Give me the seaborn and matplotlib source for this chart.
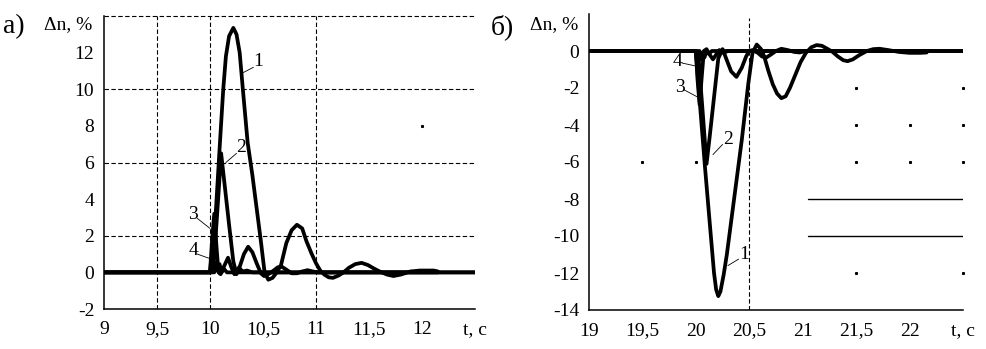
import matplotlib
matplotlib.use("Agg")
import matplotlib.pyplot as plt
import seaborn as sns

# ---------------- data ----------------
# Panel а): positive speed deviation, curves 1..4
a_c1_t = [9.0, 10.0, 10.02, 10.06, 10.094, 10.125, 10.15, 10.18, 10.22, 10.25, 10.28, 10.31,
          10.355, 10.40, 10.44, 10.48, 10.515, 10.55, 10.59, 10.63, 10.67, 10.72, 10.77, 10.82,
          10.87, 10.91, 10.96, 11.0, 11.04, 11.08, 11.12, 11.16, 11.21, 11.26, 11.31, 11.37,
          11.43, 11.49, 11.55, 11.6, 11.67, 11.73, 11.8, 11.89, 11.98, 12.05, 12.11, 12.15]
a_c1_v = [0, 0, 0.2, 3.8, 7.1, 10.0, 11.8, 12.9, 13.35, 13.0, 12.0, 10.0,
          7.1, 5.3, 3.5, 1.7, 0.0, -0.4, -0.3, 0.0, 0.4, 1.6, 2.3, 2.6,
          2.4, 1.7, 1.0, 0.5, 0.1, -0.13, -0.27, -0.3, -0.18, 0.0, 0.25, 0.45,
          0.52, 0.4, 0.2, 0.05, -0.12, -0.2, -0.12, 0.05, 0.1, 0.1, 0.1, 0.05]

a_c2_t = [9.0, 10.0, 10.03, 10.07, 10.105, 10.13, 10.18, 10.22, 10.25, 10.28, 10.32, 10.36,
          10.40, 10.44, 10.48, 10.51, 10.55, 10.6, 10.64, 10.68, 10.72, 10.77, 10.82, 10.87,
          10.92, 10.97, 11.02, 12.15]
a_c2_v = [0, 0, 0.0, 3.4, 6.5, 5.2, 2.6, 0.6, -0.1, 0.3, 1.0, 1.4,
          1.1, 0.5, -0.05, -0.2, -0.1, 0.1, 0.28, 0.3, 0.15, -0.05, -0.05, 0.05,
          0.12, 0.05, 0.0, 0.0]

a_c3_t = [9.0, 10.0, 10.02, 10.04, 10.06, 10.08, 10.1, 10.13, 10.17, 10.2, 10.23, 10.27,
          10.31, 10.35, 10.4, 12.5]
a_c3_v = [0, 0, 1.8, 3.2, 1.5, 0.0, -0.1, 0.3, 0.8, 0.3, -0.1, 0.25,
          0.05, 0.1, 0.0, 0.0]

a_c4_t = [9.0, 10.0, 10.01, 10.025, 10.04, 10.055, 10.07, 10.09, 10.11, 10.13, 10.16, 12.5]
a_c4_v = [0, 0, 0.6, 1.0, 0.0, 0.5, 0.1, 0.45, 0.0, 0.2, 0.0, 0.0]

# Panel б): negative speed deviation, curves 1..4
b_c1_t = [19.0, 20.0, 20.04, 20.085, 20.13, 20.17, 20.19, 20.21, 20.23, 20.26, 20.29, 20.36,
          20.43, 20.49, 20.53, 20.57, 20.61, 20.64, 20.68, 20.72, 20.76, 20.80, 20.84, 20.88,
          20.93, 20.98, 21.03, 21.08, 21.13, 21.18, 21.23, 21.28, 21.33, 21.38, 21.42, 21.47,
          21.53, 21.6, 21.66, 21.72, 21.8, 21.9, 22.0, 22.1, 22.16]
b_c1_v = [0, 0, -3.0, -6.25, -9.3, -12.0, -12.9, -13.25, -13.0, -12.1, -11.0, -7.9,
          -4.8, -1.8, -0.1, 0.35, 0.1, -0.3, -1.1, -1.8, -2.3, -2.55, -2.45, -2.0,
          -1.3, -0.6, -0.1, 0.2, 0.32, 0.28, 0.12, -0.05, -0.3, -0.5, -0.55, -0.45,
          -0.22, 0.0, 0.1, 0.12, 0.05, -0.05, -0.1, -0.1, -0.08]

b_c2_t = [19.0, 20.0, 20.02, 20.06, 20.10, 20.13, 20.17, 20.21, 20.25, 20.29, 20.33, 20.38,
          20.43, 20.47, 20.5, 20.53, 20.58, 20.62, 20.66, 20.7, 20.75, 20.8, 20.86, 20.92,
          20.97, 21.03, 22.16]
b_c2_v = [0, 0, 0.0, -3.0, -6.1, -4.6, -2.5, -0.4, 0.1, -0.5, -1.1, -1.4,
          -0.9, -0.3, 0.0, 0.05, -0.1, -0.3, -0.35, -0.2, 0.0, 0.12, 0.05, -0.05,
          -0.08, 0.0, 0.0]

b_c3_t = [19.0, 20.0, 20.015, 20.035, 20.055, 20.075, 20.1, 20.13, 20.16, 20.19, 20.22, 20.26,
          20.3, 20.35, 22.5]
b_c3_v = [0, 0, -1.5, -2.9, -1.4, 0.0, 0.1, -0.2, -0.45, -0.2, 0.05, -0.1,
          0.0, 0.0, 0.0]

b_c4_t = [19.0, 20.0, 20.01, 20.02, 20.035, 20.05, 20.065, 20.08, 20.1, 20.12, 20.15, 22.5]
b_c4_v = [0, 0, -0.6, -0.95, 0.0, -0.45, -0.1, -0.35, 0.0, -0.15, 0.0, 0.0]

# tick labels
a_xticks = [9, 9.5, 10, 10.5, 11, 11.5, 12, 12.5]
a_xlabels = ["9", "9,5", "10", "10,5", "11", "11,5", "12", "t, c"]
a_yticks = [-2, 0, 2, 4, 6, 8, 10, 12]
b_xticks = [19, 19.5, 20, 20.5, 21, 21.5, 22, 22.5]
b_xlabels = ["19", "19,5", "20", "20,5", "21", "21,5", "22", "t, c"]
b_yticks = [-14, -12, -10, -8, -6, -4, -2, 0]

curve_names = ["1", "2", "3", "4"]

# ---------------- style ----------------
sns.set_theme(style="white")
plt.rcParams["font.family"] = ["Liberation Serif", "DejaVu Serif"]

fig = plt.figure(figsize=(9.86, 3.49), dpi=100)
W, H = 986.0, 349.0
ax1 = fig.add_axes([104 / W, 1 - 309 / H, 371 / W, 293 / H])
ax2 = fig.add_axes([589 / W, 1 - 310 / H, 374 / W, 296 / H])

LW = 2.7
dash = (0, (4, 2.2))

def style_axes(ax, xlim, ylim, xticks, xlabels, yticks):
    ax.set_xlim(*xlim)
    ax.set_ylim(*ylim)
    ax.set_xticks(xticks)
    ax.set_xticklabels(xlabels)
    ax.set_yticks(yticks)
    ax.set_yticklabels([str(v) for v in yticks])
    ax.tick_params(axis="both", length=0, labelsize=14, colors="black")
    ax.tick_params(axis="x", pad=9)
    ax.tick_params(axis="y", pad=7)
    for s in ["top", "right"]:
        ax.spines[s].set_visible(False)
    for s in ["left", "bottom"]:
        ax.spines[s].set_color("black")
        ax.spines[s].set_linewidth(1.1)
    ax.set_xlabel("")
    ax.set_ylabel("")
    ax.grid(False)

# ----- panel а -----
for xv in [9.5, 10, 11]:
    ax1.axvline(xv, color="black", lw=0.8, ls=dash, zorder=1)
for yv in [2, 6, 10, 14]:
    ax1.axhline(yv, color="black", lw=0.8, ls=dash, zorder=1, clip_on=False)
ax1.plot([12.0], [8.0], marker="s", ms=1.2, color="black", ls="none")

for t, v in [(a_c1_t, a_c1_v), (a_c2_t, a_c2_v), (a_c3_t, a_c3_v), (a_c4_t, a_c4_v)]:
    sns.lineplot(x=t, y=v, ax=ax1, color="black", linewidth=LW, estimator=None,
                 sort=False, zorder=3)
    ax1.lines[-1].set_solid_joinstyle("round")

style_axes(ax1, (9, 12.5), (-2, 14), a_xticks, a_xlabels, a_yticks)

a_label_xy = [(10.45, 11.5), (10.29, 6.8), (9.84, 3.15), (9.84, 1.2)]
a_leader_from = [(10.41, 11.2), (10.25, 6.5), (9.88, 2.95), (9.88, 1.0)]
a_leader_to = [(10.31, 10.9), (10.15, 6.0), (10.0, 2.4), (10.0, 0.75)]
for name, (tx, ty), (fx, fy), (ex, ey) in zip(curve_names, a_label_xy, a_leader_from, a_leader_to):
    ax1.text(tx, ty, name, fontsize=14, ha="center", va="center", color="black")
    ax1.plot([fx, ex], [fy, ey], color="black", lw=0.6, zorder=4)

# ----- panel б -----
ax2.axvline(20.5, ymax=(1.8 + 14) / 16, color="black", lw=0.8, ls=dash, zorder=1)
for yv in [-8, -10]:
    ax2.plot([21.05, 22.5], [yv, yv], color="black", lw=1.0, zorder=1)
b_dots_x = [21.5, 22.5, 21.5, 22.0, 22.5, 21.5, 22.0, 22.5, 19.5, 20.0, 21.5, 22.5]
b_dots_y = [-2, -2, -4, -4, -4, -6, -6, -6, -6, -6, -12, -12]
ax2.plot(b_dots_x, b_dots_y, marker="s", ms=1.2, color="black", ls="none", clip_on=False)

for t, v in [(b_c1_t, b_c1_v), (b_c2_t, b_c2_v), (b_c3_t, b_c3_v), (b_c4_t, b_c4_v)]:
    sns.lineplot(x=t, y=v, ax=ax2, color="black", linewidth=LW, estimator=None,
                 sort=False, zorder=3)
    ax2.lines[-1].set_solid_joinstyle("round")

style_axes(ax2, (19, 22.5), (-14, 2), b_xticks, b_xlabels, b_yticks)

b_label_xy = [(20.45, -11.0), (20.3, -4.8), (19.85, -1.95), (19.83, -0.55)]
b_leader_from = [(20.4, -11.25), (20.25, -5.05), (19.89, -2.1), (19.87, -0.65)]
b_leader_to = [(20.3, -11.6), (20.16, -5.6), (20.02, -2.5), (19.99, -0.8)]
for name, (tx, ty), (fx, fy), (ex, ey) in zip(curve_names, b_label_xy, b_leader_from, b_leader_to):
    ax2.text(tx, ty, name, fontsize=14, ha="center", va="center", color="black")
    ax2.plot([fx, ex], [fy, ey], color="black", lw=0.6, zorder=4)

# ----- panel captions -----
fig.text(3 / W, 1 - 27 / H, "а)", fontsize=20, ha="left", va="center", color="black")
fig.text(92 / W, 1 - 25 / H, "Δn, %", fontsize=14, ha="right", va="center", color="black")
fig.text(491 / W, 1 - 27 / H, "б)", fontsize=20, ha="left", va="center", color="black")
fig.text(578 / W, 1 - 25 / H, "Δn, %", fontsize=14, ha="right", va="center", color="black")

fig.savefig("out.png", dpi=100, facecolor="white")
